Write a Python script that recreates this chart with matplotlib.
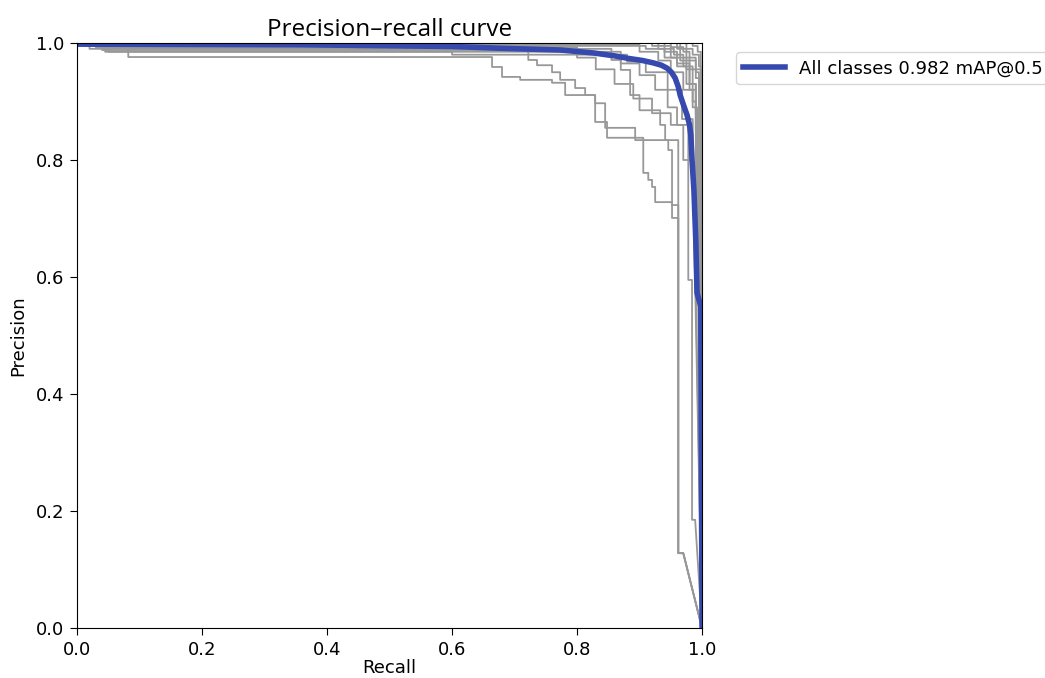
import matplotlib
matplotlib.use("Agg")
import matplotlib.pyplot as plt

# ---- data: per-class recall breakpoints and precision after each drop ----
classes_recall = [
    [0.082, 0.664, 0.680, 0.709, 0.760, 0.781, 0.829, 0.848, 0.906, 0.914, 0.920, 0.925, 0.952, 0.962],
    [0.040, 0.722, 0.736, 0.760, 0.773, 0.797, 0.813, 0.829, 0.845, 0.893, 0.946, 0.952, 0.962],
    [0.030, 0.800, 0.830, 0.860, 0.890, 0.920, 0.950, 0.978, 0.984],
    [0.020, 0.855, 0.870, 0.885, 0.900, 0.933, 0.941, 0.962],
    [0.010, 0.900, 0.930, 0.950, 0.970, 0.985],
    [0.015, 0.910, 0.940, 0.960, 0.975, 0.990],
    [0.930, 0.955, 0.970, 0.985],
    [0.950, 0.970, 0.980, 0.990],
    [0.960, 0.975, 0.990],
    [0.975, 0.985, 0.995],
    [0.985, 0.993],
    [0.050, 0.870, 0.900, 0.925, 0.945, 0.960, 0.970, 0.980],
    [0.940, 0.960, 0.980, 0.990],
    [0.965, 0.980, 0.990],
    [0.920, 0.950, 0.975],
    [0.045, 0.600, 0.880, 0.910, 0.945, 0.968],
]
classes_precision = [
    [0.976, 0.959, 0.942, 0.937, 0.932, 0.911, 0.865, 0.838, 0.778, 0.766, 0.754, 0.728, 0.701, 0.128],
    [0.988, 0.971, 0.962, 0.950, 0.937, 0.923, 0.911, 0.897, 0.855, 0.834, 0.817, 0.723, 0.128],
    [0.993, 0.975, 0.955, 0.930, 0.905, 0.880, 0.860, 0.595, 0.185],
    [0.990, 0.971, 0.954, 0.911, 0.885, 0.860, 0.834, 0.128],
    [0.997, 0.985, 0.970, 0.950, 0.920, 0.890],
    [0.995, 0.990, 0.975, 0.960, 0.930, 0.880],
    [0.990, 0.980, 0.960, 0.900],
    [0.993, 0.985, 0.970, 0.940],
    [0.990, 0.975, 0.950],
    [0.990, 0.980, 0.960],
    [0.995, 0.985],
    [0.985, 0.965, 0.945, 0.920, 0.890, 0.860, 0.800],
    [0.985, 0.965, 0.930, 0.850],
    [0.970, 0.920, 0.750],
    [0.995, 0.975, 0.955],
    [0.985, 0.980, 0.968, 0.950, 0.920, 0.870],
]
tail_recall = [0.970, 0.970, 0.989, 0.970, 0.992, 0.995, 0.990, 0.995, 0.995,
               0.998, 0.998, 0.985, 0.995, 0.996, 0.998, 0.985]

all_recall = [0.0, 0.357, 0.600, 0.677, 0.773, 0.826, 0.860, 0.880, 0.905, 0.922, 0.935, 0.944,
              0.951, 0.957, 0.962, 0.965, 0.970, 0.976, 0.980, 0.982, 0.984, 0.987, 0.990,
              0.992, 0.995, 0.998, 1.0]
all_precision = [0.998, 0.997, 0.994, 0.991, 0.988, 0.983, 0.978, 0.974, 0.970, 0.966, 0.962, 0.957,
                 0.950, 0.940, 0.925, 0.911, 0.895, 0.877, 0.860, 0.843, 0.800, 0.749, 0.663,
                 0.573, 0.561, 0.55, 0.0]
map50 = 0.982


def step_path(rec, prec, r_end):
    xs, ys = [0.0], [1.0]
    cur = 1.0
    for r, p in zip(rec, prec):
        xs += [r, r]
        ys += [cur, p]
        cur = p
    xs += [r_end, 1.0]
    ys += [cur, 0.0]
    return xs, ys


fig = plt.figure(figsize=(10.45, 6.78), dpi=100)
ax = fig.add_axes([0.0737, 0.0737, 0.5981, 0.8629])

for rec, prec, rend in zip(classes_recall, classes_precision, tail_recall):
    xs, ys = step_path(rec, prec, rend)
    ax.plot(xs, ys, linewidth=1.3, color="#989898")

ax.plot(all_recall, all_precision, linewidth=4.0, color="#3549ae",
        label="All classes %.3f mAP@0.5" % map50)

ax.set_xlim(0, 1)
ax.set_ylim(0, 1)
ax.set_xticks([0, 0.2, 0.4, 0.6, 0.8, 1.0])
ax.set_yticks([0, 0.2, 0.4, 0.6, 0.8, 1.0])
ax.tick_params(labelsize=13, length=5, pad=4)
ax.set_xlabel("Recall", fontsize=13, labelpad=0)
ax.set_ylabel("Precision", fontsize=13, labelpad=6)
ax.set_title("Precision–recall curve", fontsize=17.5, family="Open Sans", pad=5)
ax.legend(bbox_to_anchor=(1.04, 1), loc="upper left", fontsize=13, handlelength=2.3)

fig.savefig("out.png", dpi=100)
